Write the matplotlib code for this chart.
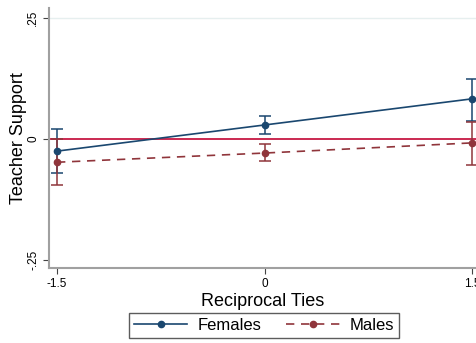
import matplotlib
matplotlib.use("Agg")
import matplotlib.pyplot as plt

plt.rcParams['font.family'] = ['Liberation Sans', 'DejaVu Sans']

# values
ties = [-1.5, 0, 1.5]
fem_mean = [-0.025, 0.029, 0.083]
fem_lo = [-0.071, 0.010, 0.037]
fem_hi = [0.021, 0.047, 0.124]
male_mean = [-0.048, -0.029, -0.008]
male_lo = [-0.095, -0.046, -0.054]
male_hi = [0.000, -0.010, 0.035]

navy = '#1a476f'
maroon = '#90353b'

fig = plt.figure(figsize=(4.77, 3.43), dpi=100)
ax = fig.add_axes([49 / 477, 1 - 268 / 343, (477 - 49) / 477, 260 / 343])

ax.axhline(0.25, color='#e6efef', lw=1, zorder=0)
ax.axhline(0, color='#c10534', lw=1.2, zorder=1)

for m, lo, hi, col, ls, lab in [(fem_mean, fem_lo, fem_hi, navy, '-', 'Females'),
                                (male_mean, male_lo, male_hi, maroon, '--', 'Males')]:
    err = [[a - b for a, b in zip(m, lo)], [b - a for a, b in zip(m, hi)]]
    ax.errorbar(ties, m, yerr=err, fmt='none', ecolor=col, elinewidth=1.1,
                capsize=4.5, capthick=1.1, zorder=2, clip_on=False)
    ax.plot(ties, m, color=col, ls=ls, lw=1.2, marker='o', ms=4.5,
            dashes=(5, 4) if ls == '--' else (None, None), label=lab, zorder=3)

ax.set_xlim(-1.558, 1.536)
ax.set_ylim(-0.2665, 0.2707)
ax.set_xticks(ties)
ax.set_xticklabels(['-1.5', '0', '1.5'])
ax.set_yticks([-0.25, 0, 0.25])
ax.set_yticklabels(['-.25', '0', '.25'], rotation=90, va='center')
ax.tick_params(labelsize=8.5, length=4, color='#444444')
ax.tick_params(axis='y', pad=3)

for s in ['top', 'right']:
    ax.spines[s].set_visible(False)
for s in ['left', 'bottom']:
    ax.spines[s].set_color('#a0a0a0')
    ax.spines[s].set_linewidth(1.5)

ax.set_xlabel('Reciprocal Ties', fontsize=13, labelpad=2)
ax.set_ylabel('Teacher Support', fontsize=13)
ax.yaxis.set_label_coords(-21.5 / 428, 0.5)

leg = fig.legend(loc='center', bbox_to_anchor=(264 / 477, 1 - 325 / 343), ncol=2,
                 fontsize=12, frameon=True, fancybox=False, handlelength=3.2,
                 columnspacing=1.5, borderpad=0.3, handletextpad=0.6)
leg.get_frame().set_edgecolor('#333333')
leg.get_frame().set_linewidth(1)

fig.savefig('out.png', dpi=100)
